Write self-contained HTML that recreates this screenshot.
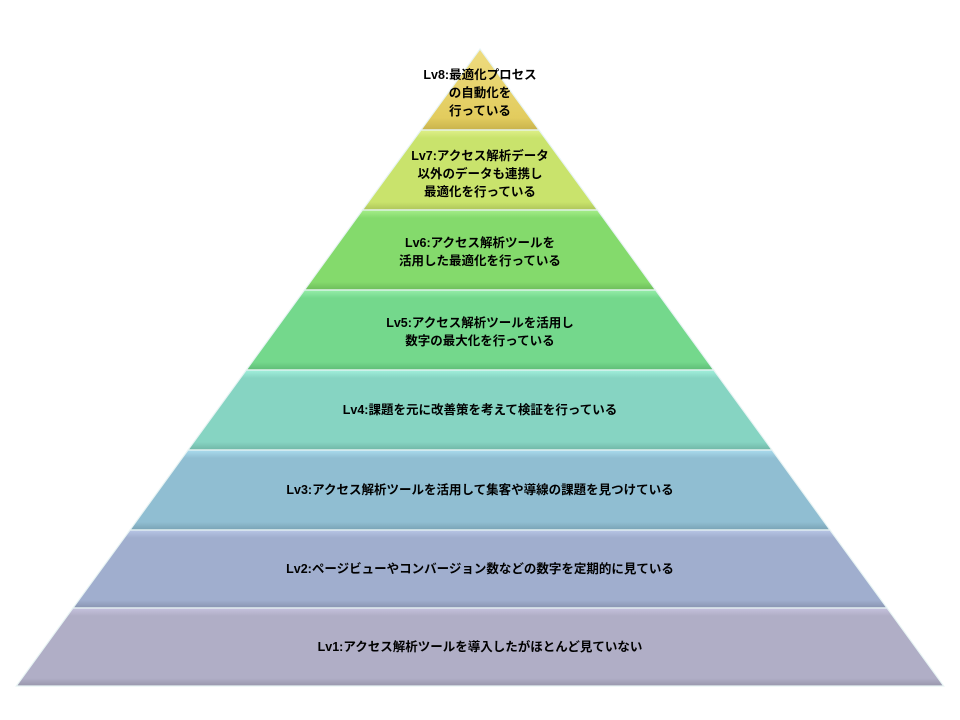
<!DOCTYPE html>
<html><head><meta charset="utf-8"><style>
html,body{margin:0;padding:0;background:#fff;width:960px;height:720px;overflow:hidden}
svg text{font-family:"Liberation Sans","Noto Sans CJK JP",sans-serif;font-weight:bold;font-size:12.5px;fill:#000;text-anchor:middle}
</style></head><body>
<svg width="960" height="720" viewBox="0 0 960 720" xmlns="http://www.w3.org/2000/svg">
<defs>
<linearGradient id="g8" x1="0" y1="0" x2="0" y2="1"><stop offset="0" stop-color="#eedc80"/><stop offset="0.85" stop-color="#e2cc5e"/><stop offset="1" stop-color="#c8b24c"/></linearGradient>
<linearGradient id="g7" x1="0" y1="0" x2="0" y2="1"><stop offset="0" stop-color="#dff08a"/><stop offset="0.1" stop-color="#c9e36c"/><stop offset="0.9" stop-color="#c9e36c"/><stop offset="1" stop-color="#aec55a"/></linearGradient>
<linearGradient id="g6" x1="0" y1="0" x2="0" y2="1"><stop offset="0" stop-color="#a6ee8a"/><stop offset="0.1" stop-color="#84da6c"/><stop offset="0.9" stop-color="#84da6c"/><stop offset="1" stop-color="#6cbc5a"/></linearGradient>
<linearGradient id="g5" x1="0" y1="0" x2="0" y2="1"><stop offset="0" stop-color="#96eeaa"/><stop offset="0.1" stop-color="#74d88c"/><stop offset="0.9" stop-color="#74d88c"/><stop offset="1" stop-color="#5ebc76"/></linearGradient>
<linearGradient id="g4" x1="0" y1="0" x2="0" y2="1"><stop offset="0" stop-color="#a2f0dc"/><stop offset="0.1" stop-color="#86d4c2"/><stop offset="0.9" stop-color="#86d4c2"/><stop offset="1" stop-color="#70b6a6"/></linearGradient>
<linearGradient id="g3" x1="0" y1="0" x2="0" y2="1"><stop offset="0" stop-color="#aadcee"/><stop offset="0.1" stop-color="#90bed2"/><stop offset="0.9" stop-color="#90bed2"/><stop offset="1" stop-color="#78a2b4"/></linearGradient>
<linearGradient id="g2" x1="0" y1="0" x2="0" y2="1"><stop offset="0" stop-color="#b8c6e6"/><stop offset="0.1" stop-color="#a0aece"/><stop offset="0.9" stop-color="#a0aece"/><stop offset="1" stop-color="#8894b0"/></linearGradient>
<linearGradient id="g1" x1="0" y1="0" x2="0" y2="1"><stop offset="0" stop-color="#c6c2de"/><stop offset="0.1" stop-color="#b0aec6"/><stop offset="0.9" stop-color="#b0aec6"/><stop offset="1" stop-color="#9896ac"/></linearGradient>
</defs>
<g stroke="#e8f4f4" stroke-width="1.2">
<polygon points="480,49 539,130 421,130" fill="url(#g8)"/>
<polygon points="421,130 539,130 597.5,210 362.5,210" fill="url(#g7)"/>
<polygon points="362.5,210 597.5,210 655.5,290 304.5,290" fill="url(#g6)"/>
<polygon points="304.5,290 655.5,290 713.7,370 246.3,370" fill="url(#g5)"/>
<polygon points="246.3,370 713.7,370 772,450 188,450" fill="url(#g4)"/>
<polygon points="188,450 772,450 830,530 130,530" fill="url(#g3)"/>
<polygon points="130,530 830,530 887,608 73,608" fill="url(#g2)"/>
<polygon points="73,608 887,608 943.7,686 16.3,686" fill="url(#g1)"/>
</g>
<text x="480" y="79">Lv8:最適化プロセス</text>
<text x="480" y="97">の自動化を</text>
<text x="480" y="115">行っている</text>
<text x="480" y="160">Lv7:アクセス解析データ</text>
<text x="480" y="178">以外のデータも連携し</text>
<text x="480" y="196">最適化を行っている</text>
<text x="480" y="247">Lv6:アクセス解析ツールを</text>
<text x="480" y="265">活用した最適化を行っている</text>
<text x="480" y="327">Lv5:アクセス解析ツールを活用し</text>
<text x="480" y="345">数字の最大化を行っている</text>
<text x="480" y="414">Lv4:課題を元に改善策を考えて検証を行っている</text>
<text x="480" y="494">Lv3:アクセス解析ツールを活用して集客や導線の課題を見つけている</text>
<text x="480" y="573">Lv2:ページビューやコンバージョン数などの数字を定期的に見ている</text>
<text x="480" y="651">Lv1:アクセス解析ツールを導入したがほとんど見ていない</text>
</svg>
</body></html>
